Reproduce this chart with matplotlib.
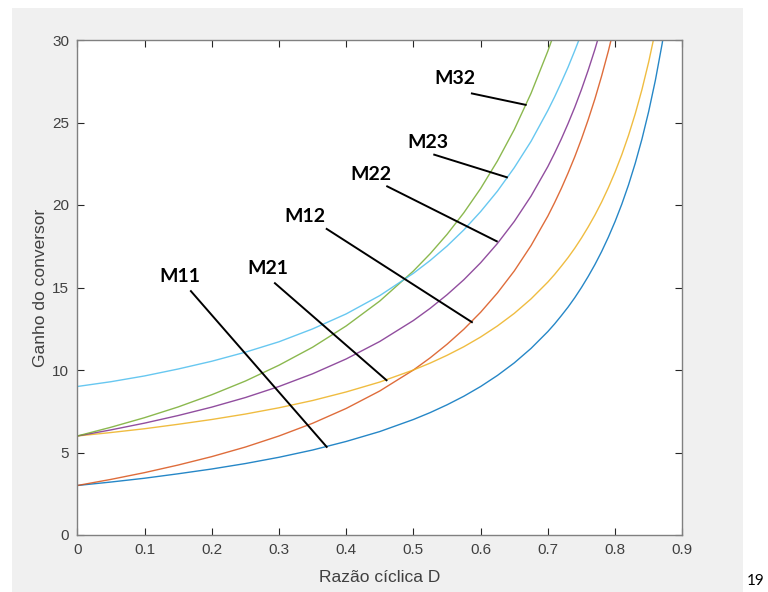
import matplotlib.pyplot as plt
from matplotlib.patches import Rectangle

# duty cycle D where the curves were read (finer near the steep end)
D = [0, 0.05, 0.1, 0.15, 0.2, 0.25, 0.3, 0.35, 0.4, 0.45, 0.5, 0.525, 0.55,
     0.575, 0.6, 0.625, 0.65, 0.675, 0.70, 0.71, 0.72, 0.73, 0.74, 0.75, 0.76,
     0.77, 0.78, 0.79, 0.80, 0.81, 0.82, 0.83, 0.84, 0.85, 0.86, 0.87, 0.88]

# gains (each curve stops once it is past 30)
m11 = [3.00, 3.21, 3.44, 3.71, 4.00, 4.33, 4.71, 5.15, 5.67, 6.27, 7.00, 7.42,
       7.89, 8.41, 9.00, 9.67, 10.43, 11.31, 12.33, 12.79, 13.29, 13.81, 14.38,
       15.00, 15.67, 16.39, 17.18, 18.05, 19.00, 20.05, 21.22, 22.53, 24.00,
       25.67, 27.57, 29.77, 32.33]
m12 = [3.00, 3.37, 3.78, 4.24, 4.75, 5.33, 6.00, 6.77, 7.67, 8.73, 10.00, 10.74,
       11.56, 12.47, 13.50, 14.67, 16.00, 17.54, 19.33, 20.14, 21.00, 21.93,
       22.92, 24.00, 25.17, 26.43, 27.82, 29.33, 31.00]
m21 = [6.00, 6.21, 6.44, 6.71, 7.00, 7.33, 7.71, 8.15, 8.67, 9.27, 10.00, 10.42,
       10.89, 11.41, 12.00, 12.67, 13.43, 14.31, 15.33, 15.79, 16.29, 16.81,
       17.38, 18.00, 18.67, 19.39, 20.18, 21.05, 22.00, 23.05, 24.22, 25.53,
       27.00, 28.67, 30.57]
m22 = [6.00, 6.37, 6.78, 7.24, 7.75, 8.33, 9.00, 9.77, 10.67, 11.73, 13.00, 13.74,
       14.56, 15.47, 16.50, 17.67, 19.00, 20.54, 22.33, 23.14, 24.00, 24.93,
       25.92, 27.00, 28.17, 29.43, 30.82]
m32 = [6.00, 6.53, 7.11, 7.76, 8.50, 9.33, 10.29, 11.38, 12.67, 14.18, 16.00,
       17.05, 18.22, 19.53, 21.00, 22.67, 24.57, 26.77, 29.33, 30.48]
m23 = [9.00, 9.29, 9.64, 10.06, 10.53, 11.08, 11.71, 12.49, 13.40, 14.51, 15.86,
       16.64, 17.51, 18.49, 19.60, 20.84, 22.26, 23.86, 25.73, 26.55, 27.43,
       28.35, 29.35, 30.40]

x_ticks = [0, 0.1, 0.2, 0.3, 0.4, 0.5, 0.6, 0.7, 0.8, 0.9]
x_tick_labels = ["0", "0.1", "0.2", "0.3", "0.4", "0.5", "0.6", "0.7", "0.8", "0.9"]
y_ticks = [0, 5, 10, 15, 20, 25, 30]

# MATLAB default colour order
series = [
    (m11, "#0072BD"),
    (m12, "#D95319"),
    (m21, "#EDB120"),
    (m22, "#7E2F8E"),
    (m32, "#77AC30"),
    (m23, "#4DBEEE"),
]

# label text centre, line start, line end (data coords)
labels = [
    ("M11", (0.153, 15.67), (0.169, 14.78), (0.371, 5.34)),
    ("M21", (0.283, 16.14), (0.294, 15.26), (0.460, 9.38)),
    ("M12", (0.339, 19.33), (0.371, 18.55), (0.587, 12.90)),
    ("M22", (0.437, 21.86), (0.461, 21.13), (0.624, 17.80)),
    ("M23", (0.522, 23.79), (0.531, 23.05), (0.639, 21.68)),
    ("M32", (0.562, 27.68), (0.587, 26.76), (0.667, 26.07)),
]

plt.rcParams["font.family"] = ["Liberation Sans", "DejaVu Sans"]

fig = plt.figure(figsize=(7.68, 5.92), dpi=100)
fig.patch.set_facecolor("white")
bg = Rectangle((12 / 768, 0), 731 / 768, 584 / 592, transform=fig.transFigure,
               facecolor="#f0f0f0", edgecolor="none", zorder=-10)
fig.add_artist(bg)

ax = fig.add_axes([77.3 / 768, 57 / 592, 605 / 768, 495 / 592])
ax.set_zorder(5)
ax.set_facecolor("white")

for values, color in series:
    ax.plot(D[:len(values)], values, color=color, lw=1.0, alpha=0.85)

for name, txt, start, end in labels:
    ax.plot([start[0], end[0]], [start[1], end[1]], color="black", lw=1.4)
    ax.text(txt[0], txt[1], name, ha="center", va="center", fontsize=14,
            fontweight="bold", family=["Lato", "DejaVu Sans"], color="black")

ax.set_xlim(0, 0.9)
ax.set_ylim(0, 30)
ax.set_xticks(x_ticks)
ax.set_xticklabels(x_tick_labels)
ax.set_yticks(y_ticks)
ax.tick_params(direction="in", top=True, right=True, length=5, width=0.8,
               labelsize=11, labelcolor="#404040", color="#262626", pad=6)
for sp in ax.spines.values():
    sp.set_color("#808080")
    sp.set_linewidth(1.0)

ax.set_xlabel("Razão cíclica D", fontsize=12.5, color="#404040", labelpad=9)
ax.set_ylabel("Ganho do conversor", fontsize=12.5, color="#404040", labelpad=3)

fig.text(765 / 768, 1 - 581 / 592, "19", fontsize=11, color="black",
         family=["Lato", "DejaVu Sans"], ha="right", va="center")

fig.savefig("out.png", dpi=100)
